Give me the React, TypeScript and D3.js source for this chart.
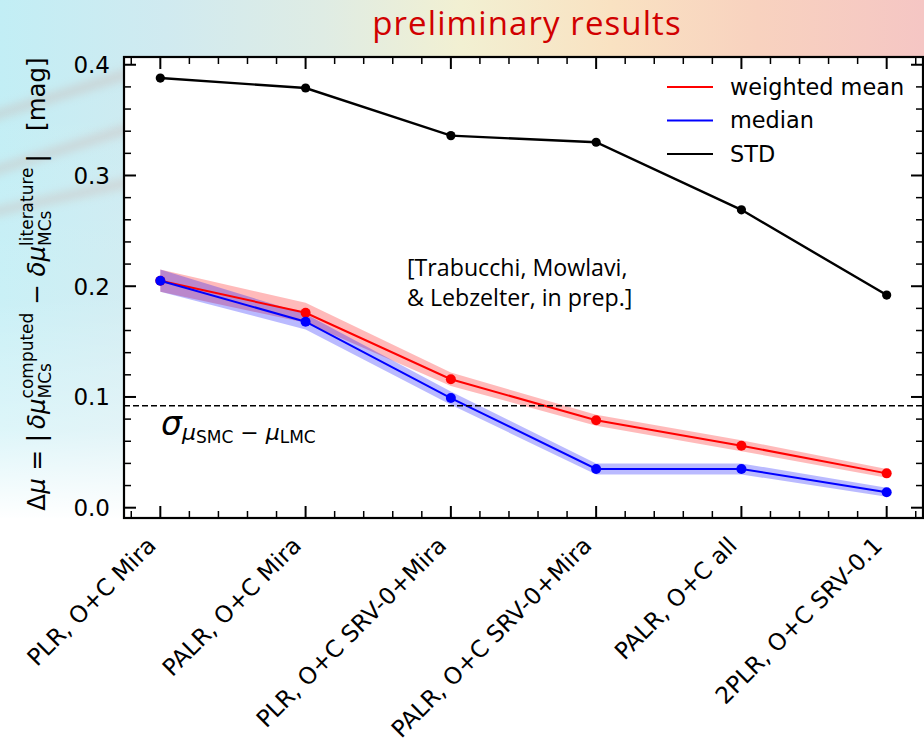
import React, { useEffect, useRef } from 'react';
import * as d3 from 'd3';

const categories = [
  'PLR, O+C Mira',
  'PALR, O+C Mira',
  'PLR, O+C SRV-0+Mira',
  'PALR, O+C SRV-0+Mira',
  'PALR, O+C all',
  '2PLR, O+C SRV-0.1',
];
const weightedMean = [0.205, 0.176, 0.116, 0.079, 0.056, 0.031];
const weightedMeanErr = [0.010, 0.009, 0.006, 0.005, 0.005, 0.004];
const median = [0.205, 0.168, 0.099, 0.035, 0.035, 0.014];
const medianErr = [0.010, 0.007, 0.006, 0.005, 0.005, 0.004];
const std = [0.388, 0.379, 0.336, 0.330, 0.269, 0.192];
const yTicks = [0.0, 0.1, 0.2, 0.3, 0.4];
const sigmaLevel = 0.092;
const legendItems = [
  { label: 'weighted mean', color: '#ff0000' },
  { label: 'median', color: '#0000ff' },
  { label: 'STD', color: '#000000' },
];

const W = 924;
const H = 743;
const MATH = 'DejaVu Sans';

const App = () => {
  const svgRef = useRef<SVGSVGElement>(null);

  useEffect(() => {
    const svg = d3.select(svgRef.current);
    svg.selectAll('*').remove();

    const left = 124, right = 923, top = 57, bottom = 518;
    const x = d3.scaleLinear().domain([-0.25, 5.25]).range([left, right]);
    const y = d3.scaleLinear().domain([-0.0093, 0.407]).range([bottom, top]);

    // background
    const defs = svg.append('defs');
    const hg = defs.append('linearGradient').attr('id', 'bgH').attr('x1', 0).attr('x2', 1).attr('y1', 0).attr('y2', 0);
    [
      [0, '#c2eef5'], [0.18, '#d0eaf0'], [0.35, '#dfece4'], [0.5, '#f2f0d2'],
      [0.66, '#f9e2c2'], [0.82, '#f8d2bf'], [1, '#f5c6c4'],
    ].forEach(([o, c]) => hg.append('stop').attr('offset', o as number).attr('stop-color', c as string));
    const vg = defs.append('linearGradient').attr('id', 'bgV').attr('x1', 0).attr('x2', 0).attr('y1', 0).attr('y2', 1);
    [[0.1, 0], [0.4, 0.12], [0.58, 0.45], [0.7, 1]].forEach(([o, a]) =>
      vg.append('stop').attr('offset', o).attr('stop-color', '#fff').attr('stop-opacity', a));
    defs.append('filter').attr('id', 'blur').append('feGaussianBlur').attr('stdDeviation', 5);

    svg.append('rect').attr('width', W).attr('height', H).attr('fill', 'url(#bgH)');
    const streaks = svg.append('g').attr('filter', 'url(#blur)').attr('opacity', 0.35);
    [[-20, 120, 140, 70], [-20, 175, 140, 125], [-20, 215, 140, 180]].forEach(([x1, y1, x2, y2]) =>
      streaks.append('line').attr('x1', x1).attr('y1', y1).attr('x2', x2).attr('y2', y2)
        .attr('stroke', '#c9a49c').attr('stroke-width', 9));
    svg.append('rect').attr('width', W).attr('height', H).attr('fill', 'url(#bgV)');
    svg.append('rect').attr('x', 0).attr('y', bottom).attr('width', W).attr('height', H - bottom).attr('fill', '#fff');
    svg.append('rect').attr('x', left).attr('y', top).attr('width', right - left).attr('height', bottom - top).attr('fill', '#fff');

    // title
    svg.append('text').attr('x', 527).attr('y', 35).attr('text-anchor', 'middle')
      .attr('font-family', 'Open Sans').attr('font-size', 33).attr('letter-spacing', 1.1).attr('fill', '#d10000')
      .text('preliminary results');

    const idx = d3.range(categories.length);

    // bands and lines
    const series = [
      { v: weightedMean, e: weightedMeanErr, c: '#ff0000' },
      { v: median, e: medianErr, c: '#0000ff' },
    ];
    const area = d3.area<number>().x((i) => x(i));
    const line = d3.line<number>().x((i) => x(i));
    series.forEach((s) => {
      svg.append('path').datum(idx)
        .attr('d', area.y0((i) => y(s.v[i] - s.e[i])).y1((i) => y(s.v[i] + s.e[i]))(idx))
        .attr('fill', s.c).attr('fill-opacity', 0.27);
    });
    series.forEach((s) => {
      svg.append('path').attr('d', line.y((i) => y(s.v[i]))(idx))
        .attr('fill', 'none').attr('stroke', s.c).attr('stroke-width', 2);
      svg.append('g').selectAll('circle').data(idx).join('circle')
        .attr('cx', (i) => x(i)).attr('cy', (i) => y(s.v[i])).attr('r', 5).attr('fill', s.c);
    });
    svg.append('path').attr('d', line.y((i) => y(std[i]))(idx))
      .attr('fill', 'none').attr('stroke', '#000').attr('stroke-width', 2.4);
    svg.append('g').selectAll('circle').data(idx).join('circle')
      .attr('cx', (i) => x(i)).attr('cy', (i) => y(std[i])).attr('r', 4.6).attr('fill', '#000');

    // sigma line
    svg.append('line').attr('x1', left).attr('x2', right).attr('y1', y(sigmaLevel)).attr('y2', y(sigmaLevel))
      .attr('stroke', '#000').attr('stroke-width', 1.5).attr('stroke-dasharray', '6,3');

    // ticks
    const majorX = idx;
    const minorX = d3.range(-1, 27).map((k) => k * 0.2).filter((v) => Math.abs(v - Math.round(v)) > 1e-6 && v > -0.25 && v < 5.25);
    const majorY = yTicks;
    const minorY = d3.range(0, 21).map((k) => k * 0.02).filter((v) => Math.abs(v * 10 - Math.round(v * 10)) > 1e-6);
    const tk = svg.append('g').attr('stroke', '#000');
    const drawX = (vals: number[], len: number, w: number) => vals.forEach((v) => {
      tk.append('line').attr('x1', x(v)).attr('x2', x(v)).attr('y1', bottom).attr('y2', bottom - len).attr('stroke-width', w);
      tk.append('line').attr('x1', x(v)).attr('x2', x(v)).attr('y1', top).attr('y2', top + len).attr('stroke-width', w);
    });
    const drawY = (vals: number[], len: number, w: number) => vals.forEach((v) => {
      tk.append('line').attr('y1', y(v)).attr('y2', y(v)).attr('x1', left).attr('x2', left + len).attr('stroke-width', w);
      tk.append('line').attr('y1', y(v)).attr('y2', y(v)).attr('x1', right).attr('x2', right - len).attr('stroke-width', w);
    });
    drawX(majorX, 12, 2);
    drawX(minorX, 7, 1.5);
    drawY(majorY, 12, 2);
    drawY(minorY, 7, 1.5);

    svg.append('rect').attr('x', left).attr('y', top).attr('width', right - left).attr('height', bottom - top)
      .attr('fill', 'none').attr('stroke', '#000').attr('stroke-width', 2.2);

    // tick labels
    svg.append('g').selectAll('text').data(majorY).join('text')
      .attr('x', 110).attr('y', (d) => y(d)).attr('dy', '0.36em').attr('text-anchor', 'end')
      .attr('font-family', MATH).attr('font-size', 23).attr('fill', '#000')
      .text((d) => d3.format('.1f')(d));
    svg.append('g').selectAll('text').data(idx).join('text')
      .attr('transform', (i) => `translate(${x(i) - 3},${bottom + 29}) rotate(-45)`)
      .attr('text-anchor', 'end')
      .attr('font-family', MATH).attr('font-size', 23.3).attr('fill', '#000')
      .text((i) => categories[i]);

    // legend
    const lg = svg.append('g');
    legendItems.forEach((it, k) => {
      const ly = 87 + k * 33.5;
      lg.append('line').attr('x1', 667).attr('x2', 713).attr('y1', ly).attr('y2', ly)
        .attr('stroke', it.color).attr('stroke-width', 2);
      lg.append('text').attr('x', 730).attr('y', ly).attr('dy', '0.35em')
        .attr('font-family', MATH).attr('font-size', 22.4).attr('fill', '#000').text(it.label);
    });

    // annotation
    const ann = svg.append('text').attr('font-family', 'Open Sans').attr('font-size', 23.2).attr('fill', '#000');
    ann.append('tspan').attr('x', 407).attr('y', 276).text('[Trabucchi, Mowlavi,');
    ann.append('tspan').attr('x', 407).attr('y', 306).text('& Lebzelter, in prep.]');

    // math text helper
    type Piece = { t: string; size: number; italic?: boolean; dy?: number; stack?: { t: string; dy: number }[] };
    const writeMath = (g: any, pieces: Piece[]) => {
      let cx = 0;
      pieces.forEach((p) => {
        if (p.stack) {
          let wmax = 0;
          p.stack.forEach((s) => {
            const el = g.append('text').attr('x', cx).attr('y', s.dy).attr('font-family', MATH)
              .attr('font-size', p.size).style('white-space', 'pre').text(s.t);
            wmax = Math.max(wmax, (el.node() as SVGTextElement).getComputedTextLength());
          });
          cx += wmax;
        } else {
          const el = g.append('text').attr('x', cx).attr('y', p.dy || 0).attr('font-family', MATH)
            .attr('font-size', p.size).attr('font-style', p.italic ? 'italic' : 'normal')
            .style('white-space', 'pre').text(p.t);
          cx += (el.node() as SVGTextElement).getComputedTextLength();
        }
      });
      return cx;
    };

    // y label
    const yl = svg.append('g').attr('transform', 'translate(45,284) rotate(-90)');
    const ylIn = yl.append('g');
    const wy = writeMath(ylIn, [
      { t: 'Δ', size: 24.5 },
      { t: 'μ', size: 24.5, italic: true },
      { t: ' = |\u2009', size: 24.5 },
      { t: 'δμ', size: 24.5, italic: true },
      { t: '', size: 17, stack: [{ t: 'computed', dy: -12.5 }, { t: 'MCs', dy: 6 }] },
      { t: ' − ', size: 24.5 },
      { t: 'δμ', size: 24.5, italic: true },
      { t: '', size: 17, stack: [{ t: 'literature', dy: -12.5 }, { t: 'MCs', dy: 6 }] },
      { t: '\u2009|   [mag]', size: 24.5 },
    ]);
    ylIn.attr('transform', `translate(${-wy / 2},0)`);

    // sigma label
    const sg = svg.append('g').attr('transform', 'translate(161,435)');
    writeMath(sg, [
      { t: 'σ', size: 33, italic: true },
      { t: 'μ', size: 22, italic: true, dy: 5 },
      { t: 'SMC', size: 17, dy: 8 },
      { t: ' − ', size: 22, dy: 5 },
      { t: 'μ', size: 22, italic: true, dy: 5 },
      { t: 'LMC', size: 17, dy: 8 },
    ]);
  }, []);

  return (
    <svg
      ref={svgRef}
      width={W}
      height={H}
      style={{ position: 'absolute', left: 0, top: 0, display: 'block' }}
    />
  );
};

export default App;
